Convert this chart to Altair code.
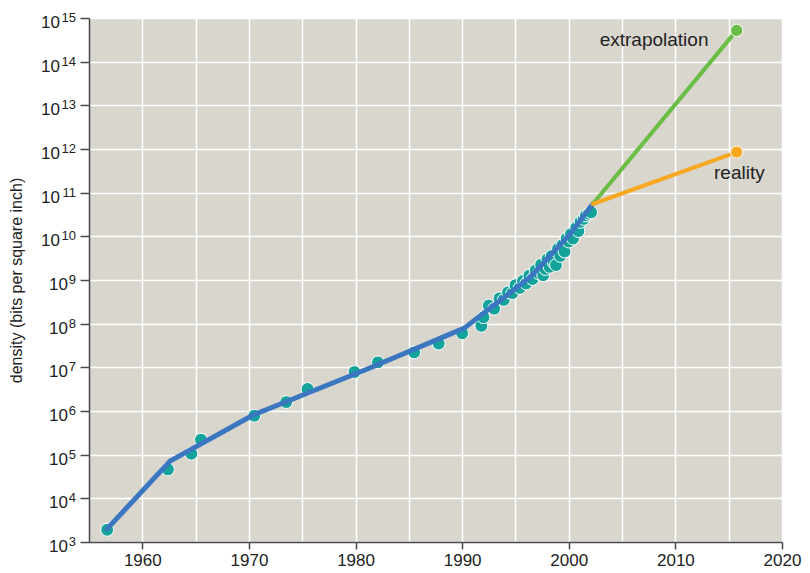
import altair as alt
import pandas as pd

# observed areal densities (teal dots)
obs_year = [1956.7, 1962.4, 1964.6, 1965.5, 1970.5, 1973.5, 1975.5, 1979.9, 1982.1,
            1985.5, 1987.8, 1990.0, 1991.8, 1992.0, 1992.5, 1993.0, 1993.5, 1993.9,
            1994.3, 1994.7, 1995.0, 1995.4, 1995.7, 1996.0, 1996.3, 1996.6, 1996.9,
            1997.2, 1997.4, 1997.6, 1997.8, 1998.0, 1998.2, 1998.4, 1998.6, 1998.8,
            1999.0, 1999.2, 1999.4, 1999.6, 1999.8, 2000.0, 2000.2, 2000.4, 2000.7,
            2000.9, 2001.1, 2001.4, 2001.6, 2001.9, 2002.1]
obs_density = [1.9e3, 4.6e4, 1.05e5, 2.2e5, 7.8e5, 1.6e6, 3.2e6, 7.8e6, 1.3e7,
               2.2e7, 3.5e7, 6.0e7, 8.9e7, 1.4e8, 2.6e8, 2.2e8, 3.8e8, 3.5e8,
               5.2e8, 5.0e8, 7.6e8, 6.6e8, 9.5e8, 8.3e8, 1.26e9, 1.05e9, 1.66e9,
               1.41e9, 2.24e9, 1.29e9, 1.78e9, 3.0e9, 2.0e9, 3.55e9, 2.5e9, 2.2e9,
               5.25e9, 3.55e9, 6.3e9, 4.5e9, 8.9e9, 7.6e9, 1.12e10, 8.9e9, 1.58e10,
               1.32e10, 2.14e10, 2.5e10, 3.0e10, 3.3e10, 3.55e10]

# trend (blue line)
trend_year = [1956.7, 1962.6, 1970.4, 1981.0, 1990.2, 1996.4, 2000.0, 2002.25]
trend_density = [2.0e3, 7.1e4, 8.1e5, 8.9e6, 7.9e7, 1.17e9, 1.05e10, 5.5e10]

# projections
proj_year = [2002.25, 2015.75]
extrapolation_density = [5.5e10, 5.2e14]
reality_density = [5.5e10, 8.5e11]

# annotations
note_text = ["extrapolation", "reality"]
note_year = [2008.0, 2016.0]
note_density = [3.2e14, 2.8e11]

# axes
x_grid_values = [1960, 1965, 1970, 1975, 1980, 1985, 1990, 1995, 2000, 2005, 2010, 2015, 2020]
y_tick_values = [1e3, 1e4, 1e5, 1e6, 1e7, 1e8, 1e9, 1e10, 1e11, 1e12, 1e13, 1e14, 1e15]
y_tick_exponents = ["3", "4", "5", "6", "7", "8", "9", "10", "11", "12", "13", "14", "15"]

TEAL = "#14a39a"
BLUE = "#3b76c0"
GREEN = "#6abd45"
ORANGE = "#f6a823"
BG = "#d9d6ce"
INK = "#222222"
AXIS = "#4a4a4a"

obs = pd.DataFrame({"year": obs_year, "density": obs_density})
trend = pd.DataFrame({"year": trend_year, "density": trend_density})
proj = pd.DataFrame({
    "year": proj_year + proj_year,
    "density": extrapolation_density + reality_density,
    "series": ["extrapolation"] * 2 + ["reality"] * 2,
})
notes = pd.DataFrame({"text": note_text, "year": note_year, "density": note_density})
yticks = pd.DataFrame({"density": y_tick_values, "exp": y_tick_exponents})

xscale = alt.Scale(domain=[1955, 2020], nice=False, zero=False)
yscale = alt.Scale(type="log", domain=[1e3, 1e15], nice=False)

xaxis = alt.Axis(
    values=x_grid_values, format="d",
    labelExpr="datum.value % 10 === 0 ? datum.label : ''",
    tickOpacity={"condition": {"test": "datum.value % 10 === 0", "value": 1}, "value": 0},
    grid=True, gridColor="white", gridWidth=1.5, gridOpacity=1,
    domainColor=AXIS, domainWidth=1.5, tickColor=AXIS, tickWidth=1.5, tickSize=7,
    labelFontSize=17, labelColor=INK, labelPadding=3, labelOverlap=False, labelFlush=False,
    title=None,
)
yaxis = alt.Axis(
    values=y_tick_values, labels=False,
    grid=True, gridColor="white", gridWidth=1.5, gridOpacity=1,
    domainColor=AXIS, domainWidth=1.5, tickColor=AXIS, tickWidth=1.5, tickSize=9,
    title="density (bits per square inch)", titleFontSize=16, titleFontWeight="normal",
    titleColor=INK, titlePadding=55,
)

points = alt.Chart(obs).mark_circle(size=165, color=TEAL, opacity=1, stroke="white", strokeWidth=1).encode(
    x=alt.X("year:Q", scale=xscale, axis=xaxis),
    y=alt.Y("density:Q", scale=yscale, axis=yaxis),
)

trend_line = alt.Chart(trend).mark_line(color=BLUE, strokeWidth=5, strokeCap="round", strokeJoin="round").encode(
    x=alt.X("year:Q", scale=xscale),
    y=alt.Y("density:Q", scale=yscale),
)

color_scale = alt.Scale(domain=["extrapolation", "reality"], range=[GREEN, ORANGE])

proj_lines = alt.Chart(proj).mark_line(strokeWidth=4, strokeCap="round").encode(
    x=alt.X("year:Q", scale=xscale),
    y=alt.Y("density:Q", scale=yscale),
    color=alt.Color("series:N", scale=color_scale, legend=None),
)

proj_dots = alt.Chart(proj).transform_filter("datum.year > 2010").mark_circle(
    size=150, opacity=1, stroke="white", strokeWidth=1
).encode(
    x=alt.X("year:Q", scale=xscale),
    y=alt.Y("density:Q", scale=yscale),
    color=alt.Color("series:N", scale=color_scale, legend=None),
)

labels = alt.Chart(notes).mark_text(fontSize=19, color=INK, align="center", baseline="middle").encode(
    x=alt.X("year:Q", scale=xscale),
    y=alt.Y("density:Q", scale=yscale),
    text="text:N",
)

# y tick labels written as 10 with a raised exponent
tick_exp = alt.Chart(yticks).mark_text(fontSize=13, color=INK, align="right", baseline="middle", dx=-13, dy=0).encode(
    x=alt.datum(1955), y=alt.Y("density:Q", scale=yscale), text="exp:N",
)
tick_base_1 = alt.Chart(yticks).transform_filter("length(datum.exp) == 1").mark_text(
    fontSize=17, color=INK, align="right", baseline="middle", dx=-21, dy=5
).encode(x=alt.datum(1955), y=alt.Y("density:Q", scale=yscale), text=alt.value("10"))
tick_base_2 = alt.Chart(yticks).transform_filter("length(datum.exp) == 2").mark_text(
    fontSize=17, color=INK, align="right", baseline="middle", dx=-29, dy=5
).encode(x=alt.datum(1955), y=alt.Y("density:Q", scale=yscale), text=alt.value("10"))

chart = alt.layer(points, trend_line, proj_lines, proj_dots, labels, tick_exp, tick_base_1, tick_base_2).properties(
    width=693, height=524,
    padding={"left": 81, "top": 10, "right": 20, "bottom": 30},
    autosize=alt.AutoSizeParams(type="none"),
).configure(font="Liberation Sans").configure_view(fill=BG, stroke=None)

chart.save("out.html", embed_options={"renderer": "svg", "actions": False})
